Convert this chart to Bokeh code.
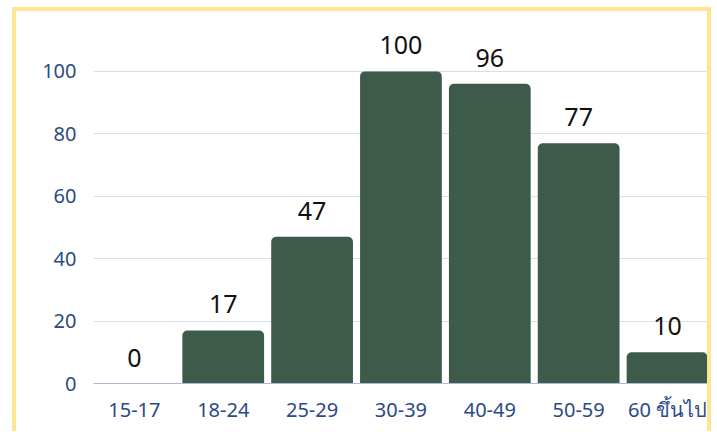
from bokeh.plotting import figure
from bokeh.models import ColumnDataSource, FixedTicker, Range1d, LabelSet
from bokeh.core.properties import value
from bokeh.embed import file_html
from bokeh.resources import INLINE

categories = ["15-17", "18-24", "25-29", "30-39", "40-49", "50-59", "60 ขึ้นไป"]
counts = [0, 17, 47, 100, 96, 77, 10]
y_ticks = [0, 20, 40, 60, 80, 100]

idx = list(range(len(categories)))
src = ColumnDataSource(dict(x=idx, top=counts, label=[str(c) for c in counts]))

p = figure(width=699, height=424, output_backend="svg", toolbar_location=None,
           x_range=Range1d(-0.46, 6.45), y_range=Range1d(0, 116.3),
           min_border_left=77, min_border_right=8, min_border_top=9, min_border_bottom=52)
p.styles = {"margin-left": "12px", "margin-top": "7px",
            "border-left": "4px solid #FDE591", "border-top": "4px solid #FDE591",
            "border-right": "4px solid #FDE591"}
p.outline_line_color = None
p.background_fill_color = "white"
p.border_fill_color = "white"

p.vbar(x="x", top="top", width=0.92, source=src, fill_color="#3D5A4A",
       line_color=None, border_radius=(5, 5, 0, 0))

labels = LabelSet(x="x", y="top", text="label", source=src, text_align="center",
                  text_baseline="bottom", y_offset=17, text_font_size="25px",
                  text_color="#111111", text_font=value("Noto Sans"))
p.add_layout(labels)

p.xaxis.ticker = FixedTicker(ticks=idx)
p.xaxis.major_label_overrides = {i: c for i, c in zip(idx, categories)}
p.yaxis.ticker = FixedTicker(ticks=y_ticks)
for ax in (p.xaxis, p.yaxis):
    ax.major_tick_line_color = None
    ax.minor_tick_line_color = None
    ax.major_label_text_color = "#2B4A86"
    ax.major_label_text_font = "Noto Sans"
    ax.major_label_text_font_size = "20px"
p.yaxis.axis_line_color = None
p.yaxis.major_label_standoff = 11
p.xaxis.axis_line_color = "#AEB9D3"
p.xaxis.major_label_standoff = 6
p.xgrid.grid_line_color = None
p.ygrid.grid_line_color = "#D8DEEA"
p.ygrid.grid_line_width = 1

open("out.html", "w").write(file_html(p, INLINE))
